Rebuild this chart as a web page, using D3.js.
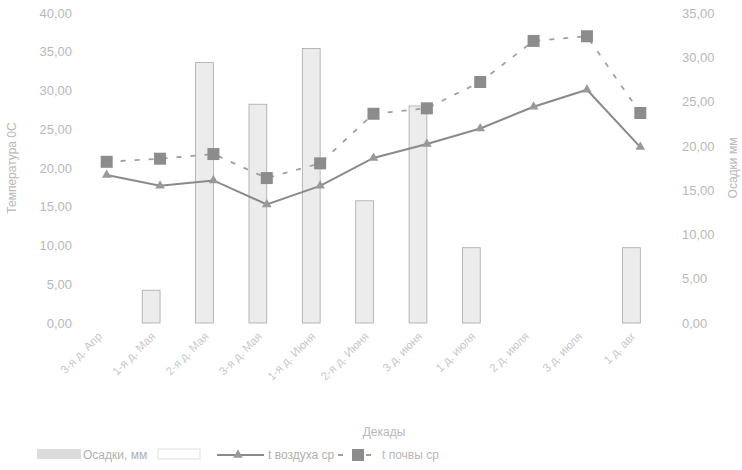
<!DOCTYPE html>
<html>
<head>
<meta charset="utf-8">
<script src="https://cdn.jsdelivr.net/npm/d3@7"></script>
<style>
  body { margin: 0; background: #fff; }
  svg { font-family: "Liberation Sans", Arial, sans-serif; }
</style>
</head>
<body>
<svg id="chart" width="742" height="470"></svg>
<script>
const decades = ["3-я д. Апр", "1-я д. Мая", "2-я д. Мая", "3-я д. Мая", "1-я д. Июня",
  "2-я д. Июня", "3 д. июня", "1 д. июля", "2 д. июля", "3 д. июля", "1 д. авг"];
const precipitation = [0, 3.7, 29.4, 24.7, 31.0, 13.8, 24.5, 8.5, 0, 0, 8.5];
const airTemp = [19.1, 17.7, 18.4, 15.3, 17.7, 21.3, 23.1, 25.1, 27.9, 30.1, 22.7];
const soilTemp = [20.8, 21.2, 21.8, 18.7, 20.6, 27.0, 27.7, 31.1, 36.4, 37.0, 27.1];
const leftTicks = [0, 5, 10, 15, 20, 25, 30, 35, 40];
const rightTicks = [0, 5, 10, 15, 20, 25, 30, 35];

const svg = d3.select("#chart");
const margin = { top: 13, right: 75, bottom: 147, left: 80 };
const width = 742, height = 470;
const innerW = width - margin.left - margin.right;
const innerH = height - margin.top - margin.bottom;
const textColor = "#b8b8b8";
const fmt = (v) => d3.format(".2f")(v).replace(".", ",");

const g = svg.append("g").attr("transform", `translate(${margin.left},${margin.top})`);

const x = d3.scaleBand().domain(decades).range([0, innerW]);
const slot = d3.scaleBand().domain(["a", "b"]).range([0, x.bandwidth()]).paddingInner(0).paddingOuter(0.5);
const yL = d3.scaleLinear().domain([0, 40]).range([innerH, 0]);
const yR = d3.scaleLinear().domain([0, 35]).range([innerH, 0]);

// left axis
const leftAxis = g.append("g")
  .call(d3.axisLeft(yL).tickValues(leftTicks).tickFormat(fmt).tickSize(0).tickPadding(8));
leftAxis.select(".domain").remove();
leftAxis.selectAll("text").style("font-size", "13px").attr("fill", textColor);

// right axis
const rightAxis = g.append("g")
  .attr("transform", `translate(${innerW},0)`)
  .call(d3.axisRight(yR).tickValues(rightTicks).tickFormat(fmt).tickSize(0).tickPadding(15));
rightAxis.select(".domain").remove();
rightAxis.selectAll("text").style("font-size", "13px").attr("fill", textColor);

// x labels
g.append("g").selectAll("text")
  .data(decades)
  .join("text")
  .attr("transform", (d) => `translate(${x(d) + x.bandwidth() / 2 - 4},${innerH + 14}) rotate(-45)`)
  .attr("text-anchor", "end")
  .style("font-size", "11.5px")
  .attr("fill", "#c8c8c8")
  .text((d) => d);

// bars
g.append("g").selectAll("rect")
  .data(decades.map((d, i) => ({ d, v: precipitation[i] })).filter((e) => e.v > 0))
  .join("rect")
  .attr("x", (e) => x(e.d) + slot("a"))
  .attr("y", (e) => yR(e.v))
  .attr("width", slot.bandwidth())
  .attr("height", (e) => innerH - yR(e.v))
  .attr("fill", "#ececec")
  .attr("stroke", "#a8a8a8")
  .attr("stroke-width", 0.8);

const cx = (i) => x(decades[i]) + x.bandwidth() / 2;

// soil temp (dashed, squares)
g.append("path")
  .datum(soilTemp)
  .attr("fill", "none")
  .attr("stroke", "#a0a0a0")
  .attr("stroke-width", 1.8)
  .attr("stroke-dasharray", "5,9")
  .attr("d", d3.line().x((d, i) => cx(i)).y((d) => yL(d)));
g.append("g").selectAll("rect")
  .data(soilTemp)
  .join("rect")
  .attr("x", (d, i) => cx(i) - 6)
  .attr("y", (d) => yL(d) - 6)
  .attr("width", 12)
  .attr("height", 12)
  .attr("fill", "#8c8c8c");

// air temp (solid, triangles)
g.append("path")
  .datum(airTemp)
  .attr("fill", "none")
  .attr("stroke", "#8a8a8a")
  .attr("stroke-width", 2)
  .attr("d", d3.line().x((d, i) => cx(i)).y((d) => yL(d)));
g.append("g").selectAll("path.tri")
  .data(airTemp)
  .join("path")
  .attr("class", "tri")
  .attr("transform", (d, i) => `translate(${cx(i)},${yL(d)})`)
  .attr("d", d3.symbol(d3.symbolTriangle, 40))
  .attr("fill", "#999");

// axis titles
svg.append("text")
  .attr("transform", `translate(16,${margin.top + innerH / 2}) rotate(-90)`)
  .attr("text-anchor", "middle")
  .style("font-size", "12px")
  .attr("fill", textColor)
  .text("Температура 0С");

svg.append("text")
  .attr("transform", `translate(737,${margin.top + innerH / 2}) rotate(-90)`)
  .attr("text-anchor", "middle")
  .style("font-size", "12px")
  .attr("fill", textColor)
  .text("Осадки  мм");

svg.append("text")
  .attr("x", 384)
  .attr("y", 436)
  .attr("text-anchor", "middle")
  .style("font-size", "12px")
  .attr("fill", textColor)
  .text("Декады");

// legend
const legend = svg.append("g").attr("transform", "translate(0,455)");
legend.append("rect")
  .attr("x", 37).attr("y", -6).attr("width", 44).attr("height", 10)
  .attr("fill", "#dcdcdc");
legend.append("text")
  .attr("x", 83).attr("y", 4)
  .style("font-size", "12px").attr("fill", "#b0b0b0")
  .text("Осадки, мм");
legend.append("rect")
  .attr("x", 158).attr("y", -6).attr("width", 42).attr("height", 10)
  .attr("fill", "none").attr("stroke", "#d8d8d8").attr("stroke-width", 0.8);
legend.append("line")
  .attr("x1", 217).attr("x2", 264).attr("y1", 0).attr("y2", 0)
  .attr("stroke", "#8a8a8a").attr("stroke-width", 2);
legend.append("path")
  .attr("transform", "translate(238,0)")
  .attr("d", d3.symbol(d3.symbolTriangle, 40))
  .attr("fill", "#999");
legend.append("text")
  .attr("x", 268).attr("y", 4)
  .style("font-size", "12px").attr("fill", "#b0b0b0")
  .text("t воздуха ср");
legend.append("line")
  .attr("x1", 338).attr("x2", 378).attr("y1", 0).attr("y2", 0)
  .attr("stroke", "#a0a0a0").attr("stroke-width", 1.8).attr("stroke-dasharray", "5,9");
legend.append("rect")
  .attr("x", 352).attr("y", -6).attr("width", 12).attr("height", 12)
  .attr("fill", "#8c8c8c");
legend.append("text")
  .attr("x", 382).attr("y", 4)
  .style("font-size", "12px").attr("fill", "#b8b8b8")
  .text("t почвы ср");
</script>
</body>
</html>
